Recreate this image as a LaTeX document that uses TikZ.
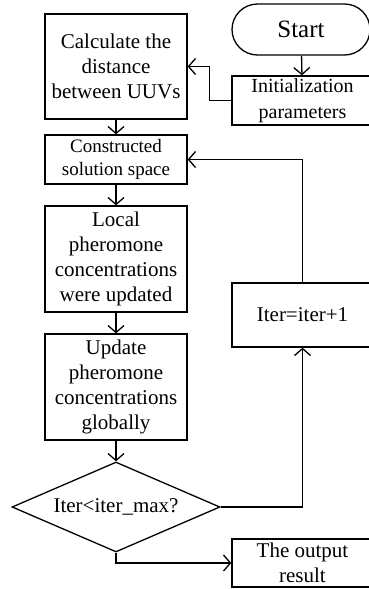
\documentclass[tikz,border=0pt]{standalone}
\usepackage{fontspec}
\setmainfont{Liberation Serif}
\usetikzlibrary{shapes.geometric,shapes.misc,arrows.meta,positioning,calc}

\begin{document}
\begin{tikzpicture}[
    x=1pt, y=-1pt,
    box/.style={draw, line width=1.3pt, minimum width=142pt, align=center, inner sep=0pt, font=\fontsize{21}{25}\selectfont},
    sbox/.style={draw, line width=1.3pt, minimum width=141pt, align=center, inner sep=0pt, font=\fontsize{20}{26}\selectfont},
    term/.style={draw, line width=1.3pt, rounded rectangle, minimum width=138pt, minimum height=51pt, inner sep=0pt, font=\fontsize{25}{30}\selectfont},
    decision/.style={draw, line width=1.3pt, diamond, aspect=2.3, minimum width=208pt, minimum height=90pt, inner sep=0pt, font=\fontsize{21}{25}\selectfont},
    arrow/.style={-{Straight Barb[length=7pt,width=16pt]}, line width=1.3pt}
]
    \useasboundingbox (0,0) rectangle (368,589);

    % Right column
    \node[term] (start) at (301,29.5) {Start};
    \node[sbox, minimum height=49pt] (init) at (302.5,100.5) {Initialization\\parameters};
    \node[sbox, minimum height=64pt, font=\fontsize{21}{25}\selectfont] (iter) at (302.5,315) {Iter=iter+1};
    \node[sbox, minimum height=48pt, font=\fontsize{21}{25}\selectfont] (output) at (302.5,563) {The output\\result};

    % Left column
    \node[box, minimum height=105pt] (calc) at (116,66.5) {Calculate the\\distance\\between UUVs};
    \node[box, minimum height=49pt, font=\fontsize{19}{23}\selectfont] (cons) at (116,159.5) {Constructed\\solution space};
    \node[box, minimum height=106pt] (local) at (116,259) {Local\\pheromone\\concentrations\\were updated};
    \node[box, minimum height=106pt] (update) at (116,387) {Update\\pheromone\\concentrations\\globally};
    \node[decision] (dec) at (116,507) {Iter<iter\_max?};

    % Arrows
    \draw[arrow] (start) -- (init);
    \draw[arrow] (init.west) -- ++(-22,0) |- (calc.east);
    \draw[arrow] (calc) -- (cons);
    \draw[arrow] (cons) -- (local);
    \draw[arrow] (local) -- (update);
    \draw[arrow] (update) -- (dec);
    \draw[arrow] (dec.east) -| (iter.south);
    \draw[arrow] (iter.north) |- (cons.east);
    \draw[arrow] (dec.south) |- (output.west);
\end{tikzpicture}
\end{document}
